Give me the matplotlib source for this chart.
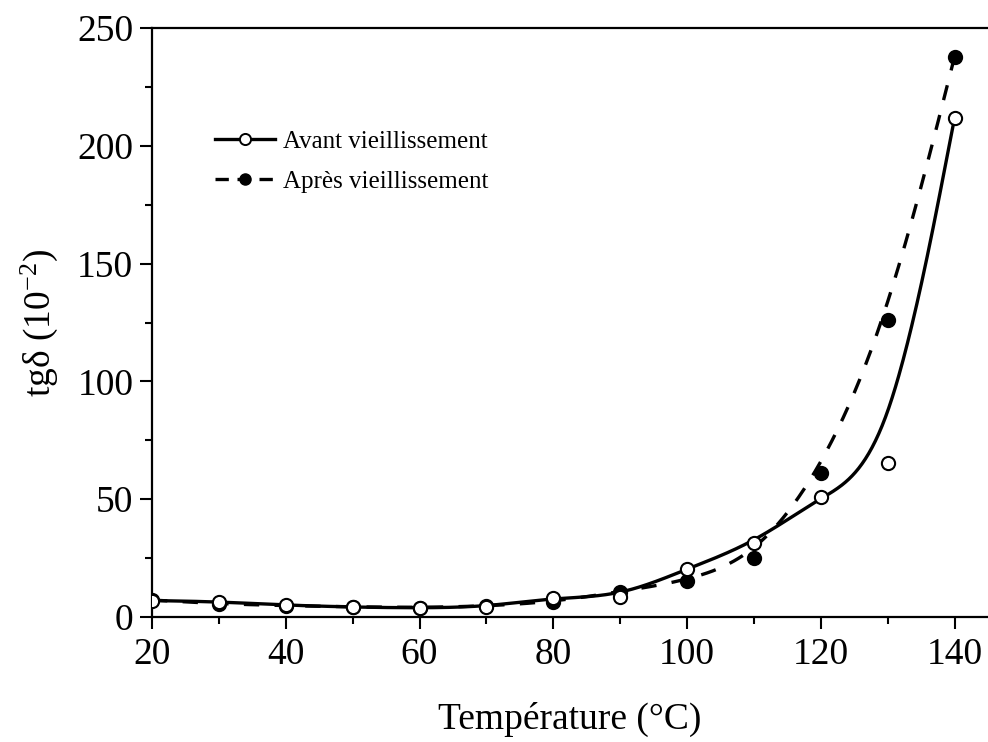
import numpy as np
import matplotlib
matplotlib.use("Agg")
import matplotlib.pyplot as plt
from matplotlib.ticker import MultipleLocator

# Loss tangent (tg delta, x1e-2) versus temperature
temperature = [20, 30, 40, 50, 60, 70, 80, 90, 100, 110, 120, 130, 140]
avant = [7.0, 6.5, 5.0, 4.2, 3.8, 4.3, 8.2, 8.7, 20.4, 31.3, 51.1, 65.4, 211.8]
apres = [7.2, 5.6, 4.8, 4.3, 4.0, 4.6, 6.4, 10.8, 15.3, 25.2, 61.2, 126.0, 237.8]

series_labels = ["Avant vieillissement", "Après vieillissement"]
x_label = "Température (°C)"
y_label = "tgδ (10$^{-2}$)"


def bspline_curve(xs, ys, per_segment=60):
    """Uniform cubic B-spline with the data points as control points.
    End points are tripled so the curve starts and ends on them."""
    pts = np.column_stack([xs, ys]).astype(float)
    pts = np.vstack([pts[:1], pts[:1], pts, pts[-1:], pts[-1:]])
    u = np.linspace(0, 1, per_segment, endpoint=False)
    b0 = (1 - u) ** 3 / 6
    b1 = (3 * u ** 3 - 6 * u ** 2 + 4) / 6
    b2 = (-3 * u ** 3 + 3 * u ** 2 + 3 * u + 1) / 6
    b3 = u ** 3 / 6
    out = []
    for i in range(len(pts) - 3):
        seg = (np.outer(b0, pts[i]) + np.outer(b1, pts[i + 1])
               + np.outer(b2, pts[i + 2]) + np.outer(b3, pts[i + 3]))
        out.append(seg)
    out.append(pts[-1:])
    curve = np.vstack(out)
    return curve[:, 0], curve[:, 1]


plt.rcParams["font.family"] = ["Liberation Serif", "DejaVu Serif"]
plt.rcParams["mathtext.fontset"] = "custom"
plt.rcParams["mathtext.rm"] = "Liberation Serif"
plt.rcParams["mathtext.it"] = "Liberation Serif:italic"

fig = plt.figure(figsize=(9.88, 7.42), dpi=100)
ax = fig.add_axes([152 / 988, 1 - 617 / 742, 1 - 152 / 988, (617 - 28) / 742])

lw = 2.4
cx, cy = bspline_curve(temperature, avant)
ax.plot(cx, cy, color="black", lw=lw, zorder=2)
cx2, cy2 = bspline_curve(temperature, apres)
ax.plot(cx2, cy2, color="black", lw=lw, dashes=(4.6, 4.6), zorder=2)

ax.plot(temperature, avant, "o", ms=9.5, mfc="white", mec="black", mew=1.5, zorder=4)
ax.plot(temperature, apres, "o", ms=9.5, mfc="black", mec="black", mew=1.5, zorder=3)

# Legend handles
h1, = ax.plot([], [], color="black", lw=lw, marker="o", ms=8, mfc="white", mec="black", mew=1.4)
h2, = ax.plot([], [], color="black", lw=lw, dashes=(4, 2.6), marker="o", ms=8, mfc="black", mec="black")
ax.legend([h1, h2], series_labels, loc="center left",
          bbox_to_anchor=((215 - 152) / 836, (617 - 161.5) / 589),
          frameon=False, fontsize=18, handlelength=2.4, handletextpad=0.3,
          labelspacing=0.72, borderaxespad=0, borderpad=0)

ax.set_xlim(20, 145)
ax.set_ylim(0, 250)
ax.xaxis.set_major_locator(MultipleLocator(20))
ax.xaxis.set_minor_locator(MultipleLocator(10))
ax.yaxis.set_major_locator(MultipleLocator(50))
ax.yaxis.set_minor_locator(MultipleLocator(25))

for side in ["left", "bottom", "top"]:
    ax.spines[side].set_linewidth(1.6)
ax.spines["right"].set_visible(False)

ax.tick_params(which="major", direction="out", length=8.5, width=1.5, labelsize=27)
ax.tick_params(which="minor", direction="out", length=5, width=1.5)
ax.tick_params(axis="y", which="major", pad=5)
ax.tick_params(axis="x", which="major", pad=6)

ax.set_xlabel(x_label, fontsize=27, labelpad=22)
ax.set_ylabel(y_label, fontsize=27, labelpad=12)

fig.savefig("out.png", dpi=100)
